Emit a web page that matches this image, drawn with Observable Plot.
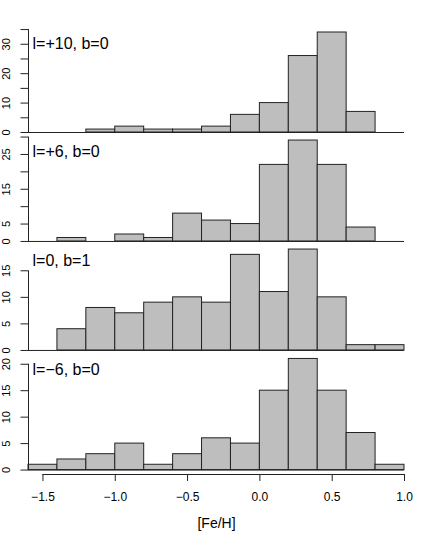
<!DOCTYPE html>
<html><head><meta charset="utf-8">
<script src="https://cdn.jsdelivr.net/npm/d3@7"></script>
<script src="https://cdn.jsdelivr.net/npm/@observablehq/plot@0.6"></script>
<style>
html,body{margin:0;padding:0;background:#fff;}
#chart svg{display:block;}
</style></head><body><div id="chart"></div>
<script>
// Bin edges of [Fe/H] histograms
const binEdges = [-1.6,-1.4,-1.2,-1.0,-0.8,-0.6,-0.4,-0.2,0.0,0.2,0.4,0.6,0.8,1.0];
// Panel labels
const panelLabels = ["l=+10, b=0", "l=+6, b=0", "l=0, b=1", "l=\u22126, b=0"];
// Counts per bin
const countsL10 = [0,0,1,2,1,1,2,6,10,26,34,7,0];
const countsL6  = [0,1,0,2,1,8,6,5,22,29,22,4,0];
const countsL0  = [0,4,8,7,9,10,9,18,11,19,10,1,1];
const countsLm6 = [1,2,3,5,1,3,6,5,15,21,15,7,1];
// Y tick values and which carry labels
const yTicksL10 = [0,5,10,15,20,25,30,35];
const yLabeledL10 = [0,10,20,30];
const yTicksL6 = [0,5,10,15,20,25,30];
const yLabeledL6 = [0,5,15,25];
const yTicksL0 = [0,5,10,15];
const yLabeledL0 = [0,5,10,15];
const yTicksLm6 = [0,5,10,15,20];
const yLabeledLm6 = [0,5,10,15,20];
// X axis
const xTicks = [-1.5,-1.0,-0.5,0.0,0.5,1.0];
const xLabel = "[Fe/H]";

const panels = [
  {label: panelLabels[0], counts: countsL10, ticks: yTicksL10, labeled: yLabeledL10},
  {label: panelLabels[1], counts: countsL6, ticks: yTicksL6, labeled: yLabeledL6},
  {label: panelLabels[2], counts: countsL0, ticks: yTicksL0, labeled: yLabeledL0},
  {label: panelLabels[3], counts: countsLm6, ticks: yTicksLm6, labeled: yLabeledLm6}
];
// layout (pixels): svg heights and margins
const layout = [
  {height: 136, top: 28, bottom: 0},
  {height: 109, top: 0, bottom: 0},
  {height: 109, top: 0, bottom: 0},
  {height: 191, top: 0, bottom: 71}
];
const font = "Liberation Sans, Arial, Helvetica, sans-serif";
const ink = "#222";
const container = document.getElementById("chart");

panels.forEach((p, i) => {
  const L = layout[i];
  const bars = p.counts.map((c, j) => ({x1: binEdges[j], x2: binEdges[j+1], n: c}));
  const M = d3.max(p.counts);
  const yDom = [-0.04 * M, 1.04 * M];
  const last = i === panels.length - 1;
  const marks = [
    Plot.ruleY([0], {stroke: ink, strokeWidth: 1}),
    Plot.rectY(bars.filter(d => d.n > 0), {x1: "x1", x2: "x2", y1: 0, y2: "n", fill: "#bebebe", stroke: ink, strokeWidth: 1}),
    Plot.ruleX([binEdges[0]], {y1: p.ticks[0], y2: p.ticks[p.ticks.length - 1], stroke: ink, strokeWidth: 1}),
    Plot.axisY({ticks: p.ticks, tickSize: 7.5, tickPadding: 11.5, tickRotate: -90,
      tickFormat: d => p.labeled.includes(d) ? String(d) : "", label: null, fontSize: 11, stroke: ink}),
    Plot.text([p.label], {frameAnchor: "top-left", dx: 4, dy: 9, fontSize: 16, fill: "#000", lineAnchor: "top"})
  ];
  if (last) {
    marks.push(
      Plot.ruleY([yDom[0]], {x1: xTicks[0], x2: xTicks[xTicks.length - 1], stroke: ink, strokeWidth: 1}),
      Plot.axisX({ticks: xTicks, tickSize: 7, tickPadding: 10.5, tickFormat: d3.format(".1f"), label: null, fontSize: 12, stroke: ink}),
      Plot.text([xLabel], {frameAnchor: "bottom", dy: 49, lineAnchor: "middle", fontSize: 14, fill: "#000"})
    );
  } else {
    marks.push(Plot.axisX({ticks: [], label: null}));
  }
  const chart = Plot.plot({
    width: 436,
    height: L.height,
    marginLeft: 28,
    marginRight: 32,
    marginTop: L.top,
    marginBottom: L.bottom,
    style: {fontFamily: font, background: "#fff", color: "#000", overflow: "visible"},
    x: {domain: [binEdges[0], binEdges[binEdges.length - 1]]},
    y: {domain: yDom},
    marks
  });
  container.appendChild(chart);
});
</script>
</body></html>
